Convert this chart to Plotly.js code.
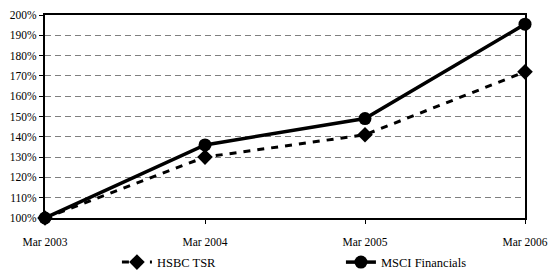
<!DOCTYPE html>
<html><head><meta charset="utf-8">
<script src="https://cdn.plot.ly/plotly-3.0.1.min.js"></script>
<style>html,body{margin:0;padding:0;background:#fff}#chart{width:549px;height:272px}</style>
</head><body><div id="chart"></div>
<script>
var categories = ["Mar 2003", "Mar 2004", "Mar 2005", "Mar 2006"];
var hsbcTSR = [100, 130, 141, 172];
var msciFinancials = [100, 136, 149, 195.5];
var seriesNames = ["HSBC TSR", "MSCI Financials"];

var serif = "Liberation Serif";
var traces = [
  {x: categories, y: hsbcTSR, name: seriesNames[0], type: "scatter", mode: "lines+markers",
   cliponaxis: false,
   line: {color: "#000", width: 3, dash: "7px,7px"},
   marker: {symbol: "diamond", size: 12, color: "#000"}},
  {x: categories, y: msciFinancials, name: seriesNames[1], type: "scatter", mode: "lines+markers",
   cliponaxis: false,
   line: {color: "#000", width: 3.5},
   marker: {symbol: "circle", size: 13, color: "#000"}}
];
var layout = {
  width: 549, height: 272,
  margin: {l: 45, r: 24, t: 15, b: 54},
  paper_bgcolor: "#fff", plot_bgcolor: "#fff",
  font: {family: serif, size: 11.5, color: "#000"},
  showlegend: true,
  legend: {orientation: "h", xref: "container", yref: "container",
    x: 0.213, xanchor: "left", y: 0.035, yanchor: "middle",
    font: {family: serif, size: 12.5, color: "#000"}, bgcolor: "rgba(0,0,0,0)",
    entrywidth: 179, entrywidthmode: "pixels", itemsizing: "trace", tracegroupgap: 0},
  xaxis: {type: "category", range: [0, 3], showgrid: false, zeroline: false, automargin: false,
    showline: true, linecolor: "#000", linewidth: 2, mirror: true,
    ticks: "outside", ticklen: 4, tickcolor: "#000", tickwidth: 1,
    ticklabelstandoff: 8, tickfont: {family: serif, size: 11.5}},
  yaxis: {range: [100, 200], dtick: 10, ticksuffix: "%", zeroline: false, automargin: false,
    showgrid: true, gridcolor: "#808080", gridwidth: 1, griddash: "6px,4px",
    showline: true, linecolor: "#000", linewidth: 2, mirror: true,
    ticks: "outside", ticklen: 4, tickcolor: "#000", tickwidth: 1,
    tickfont: {family: serif, size: 11.5}}
};
Plotly.newPlot("chart", traces, layout, {displayModeBar: false, staticPlot: true});
</script></body></html>
